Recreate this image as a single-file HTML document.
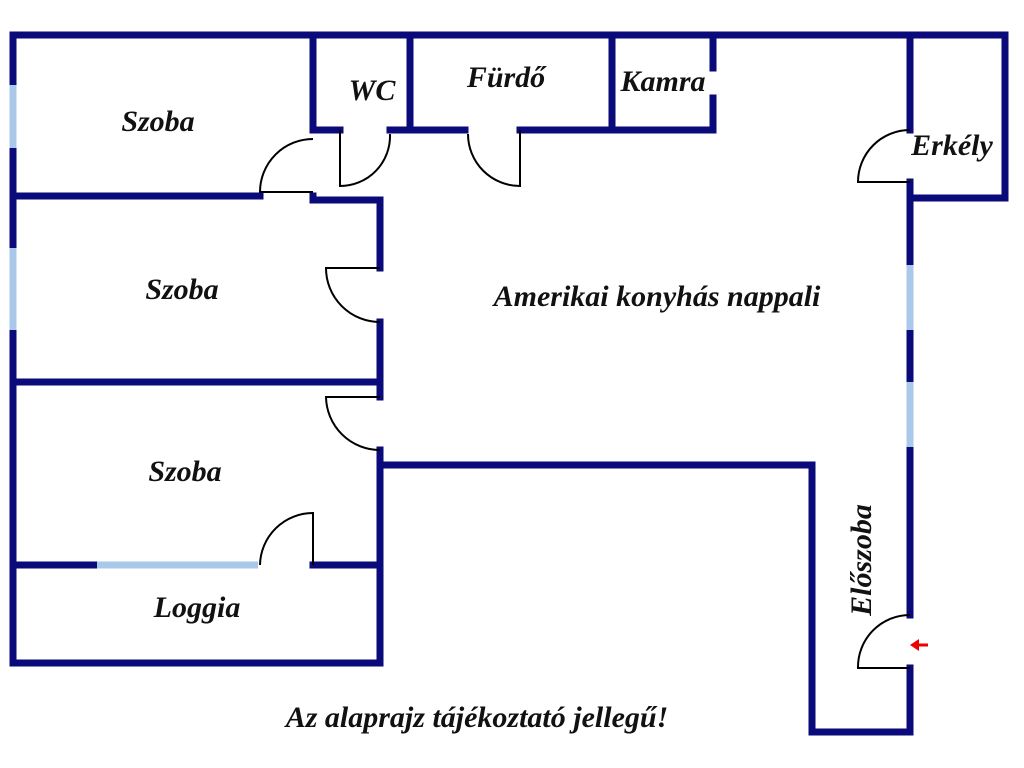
<!DOCTYPE html>
<html><head><meta charset="utf-8"><style>
html,body{margin:0;padding:0;background:#fff;width:1024px;height:768px;overflow:hidden}
svg{display:block}
text{font-family:"Liberation Serif",serif;font-weight:bold;font-style:italic;fill:#111;text-anchor:middle}
</style></head><body>
<svg width="1024" height="768" viewBox="0 0 1024 768">
<g stroke="#0a0a7a" stroke-width="7" stroke-linecap="square" fill="none">
<path d="M13 35H1005V198H910"/>
<path d="M13 35V663H380"/>
<path d="M910 35V130M910 182V615M910 668V732H812V465H380"/>
<path d="M313 35V130H340M390 130H465M520 130H713V98M713 68V35"/>
<path d="M410 35V130M612 35V130"/>
<path d="M13 196H260M313 196V200H380V268M380 322V397M380 450V663"/>
<path d="M13 382H380"/>
<path d="M13 565H97M313 565H380"/>
</g>
<g stroke="#a9c8ea" stroke-width="7" fill="none">
<path d="M13 85V148M13 248V330M910 265V330M910 382V447M97 565H258"/>
</g>
<g stroke="#000" stroke-width="2" fill="none">
<path d="M313 139A53 53 0 0 0 260 192H313"/>
<path d="M340 130V186A50 50 0 0 0 390 134"/>
<path d="M468 134A52 52 0 0 0 520 186V130"/>
<path d="M380 268H326A54 54 0 0 0 380 322"/>
<path d="M380 397H326A54 54 0 0 0 380 450"/>
<path d="M313 565V513A53 53 0 0 0 260 565"/>
<path d="M910 130A52 52 0 0 0 858 182H910"/>
<path d="M910 615A52 52 0 0 0 858 668H910"/>
</g>
<path d="M928 645H918" stroke="#e00" stroke-width="3"/>
<path d="M910 645L919 639V651Z" fill="#e00"/>
<text x="158" y="131" font-size="30">Szoba</text>
<text x="182" y="299" font-size="30">Szoba</text>
<text x="185" y="481" font-size="30">Szoba</text>
<text x="197" y="617" font-size="30">Loggia</text>
<text x="372" y="100" font-size="30">WC</text>
<text x="506" y="87" font-size="30">Fürdő</text>
<text x="663" y="91" font-size="30">Kamra</text>
<text x="952" y="155" font-size="30">Erkély</text>
<text x="657" y="306" font-size="30">Amerikai konyhás nappali</text>
<text x="0" y="0" font-size="30" transform="translate(871,560) rotate(-90)">Előszoba</text>
<text x="477" y="727" font-size="30">Az alaprajz tájékoztató jellegű!</text>
</svg>
</body></html>
